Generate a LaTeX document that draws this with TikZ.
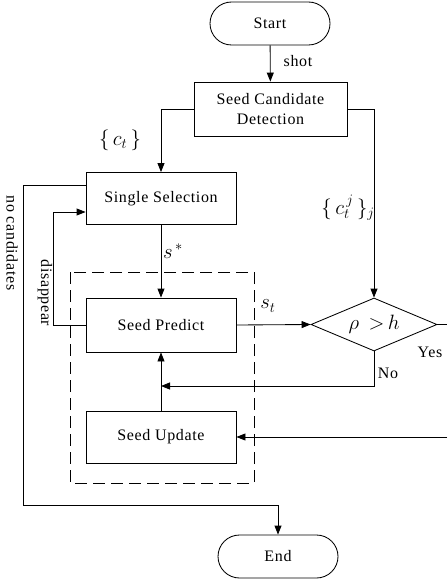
\documentclass[tikz,border=0pt]{standalone}
\usepackage{fontspec}
\setmainfont{Liberation Serif}[LetterSpace=4]
\usetikzlibrary{shapes.geometric,shapes.misc,arrows.meta}
\begin{document}
\begin{tikzpicture}[x=1pt,y=-1pt,
  font=\fontsize{16}{19}\selectfont,
  every path/.style={line width=0.85pt},
  term/.style={draw,rounded rectangle,minimum width=120pt,minimum height=43pt,inner sep=0pt},
  proc/.style={draw,rectangle,minimum width=150pt,inner sep=0pt,align=center},
  dec/.style={draw,diamond,minimum width=126pt,minimum height=53pt,inner sep=0pt},
  arr/.style={-{Triangle[length=9pt,width=7pt]}},
  lbl/.style={inner sep=0pt},
  mlbl/.style={inner sep=0pt,font=\fontsize{21}{24}\selectfont}]
\useasboundingbox (0,0) rectangle (447,583);
% nodes
\node[term] (start) at (270,23.5) {Start};
\node[proc,minimum width=153pt,minimum height=54pt] (scd) at (270.5,109) {Seed Candidate\\[1pt]Detection};
\node[proc,minimum height=52pt] (ss) at (161,198.5) {Single Selection};
\node[proc,minimum height=54pt] (sp) at (161,325) {Seed Predict};
\node[proc,minimum height=52pt] (su) at (161,437) {Seed Update};
\node[dec] (dia) at (374,324.5) {};
\node[mlbl] (rho) at (dia.center) {$\rho\ \,{>}\,h$};
\node[term] (end) at (278,556.5) {End};
% dashed group
\draw[dash pattern=on 12pt off 6pt] (70,272) rectangle (254,483);
% coordinates
\coordinate (yesA) at (447,324.5);
\coordinate (yesB) at (447,437);
\coordinate (noJ) at (161,386);
\coordinate (dA) at (53,212);
\coordinate (nA) at (23,185);
\coordinate (nB) at (23,505);
% connectors
\draw[arr] (start) -- (scd);
\draw[arr] (scd.west) -| (ss.north);
\draw[arr] (scd.east) -| (dia.north);
\draw[arr] (ss) -- (sp);
\draw[arr] (sp.east) -- (dia.west);
\draw (dia.east) -- (yesA);
\draw[arr] (yesB) -- (su.east);
\draw[arr] (dia.south) |- (noJ);
\draw[arr] (su) -- (sp);
\draw[arr] (sp.west) -| (dA) -- (dA -| ss.west);
\draw[arr] (ss.west |- nA) -- (nA) -- (nB) -| (end.north);
% labels
\node[lbl] (lshot) at (298,61) {shot};
\node[mlbl] (lct) at (120,140) {$\{\,c_t\,\}$};
\node[mlbl] (lctj) at (348,208) {$\{\,c_t^{\,j}\,\}_j$};
\node[mlbl] (lsstar) at (173,251) {$s^{\,*}$};
\node[mlbl] (lst) at (268,306) {$s_t$};
\node[lbl] (lyes) at (430,352) {Yes};
\node[lbl] (lno) at (388,373) {No};
\node[lbl,rotate=-90] (lnoc) at (12,243) {no candidates};
\node[lbl,rotate=-90] (ldis) at (45,293) {disappear};
\end{tikzpicture}
\end{document}
